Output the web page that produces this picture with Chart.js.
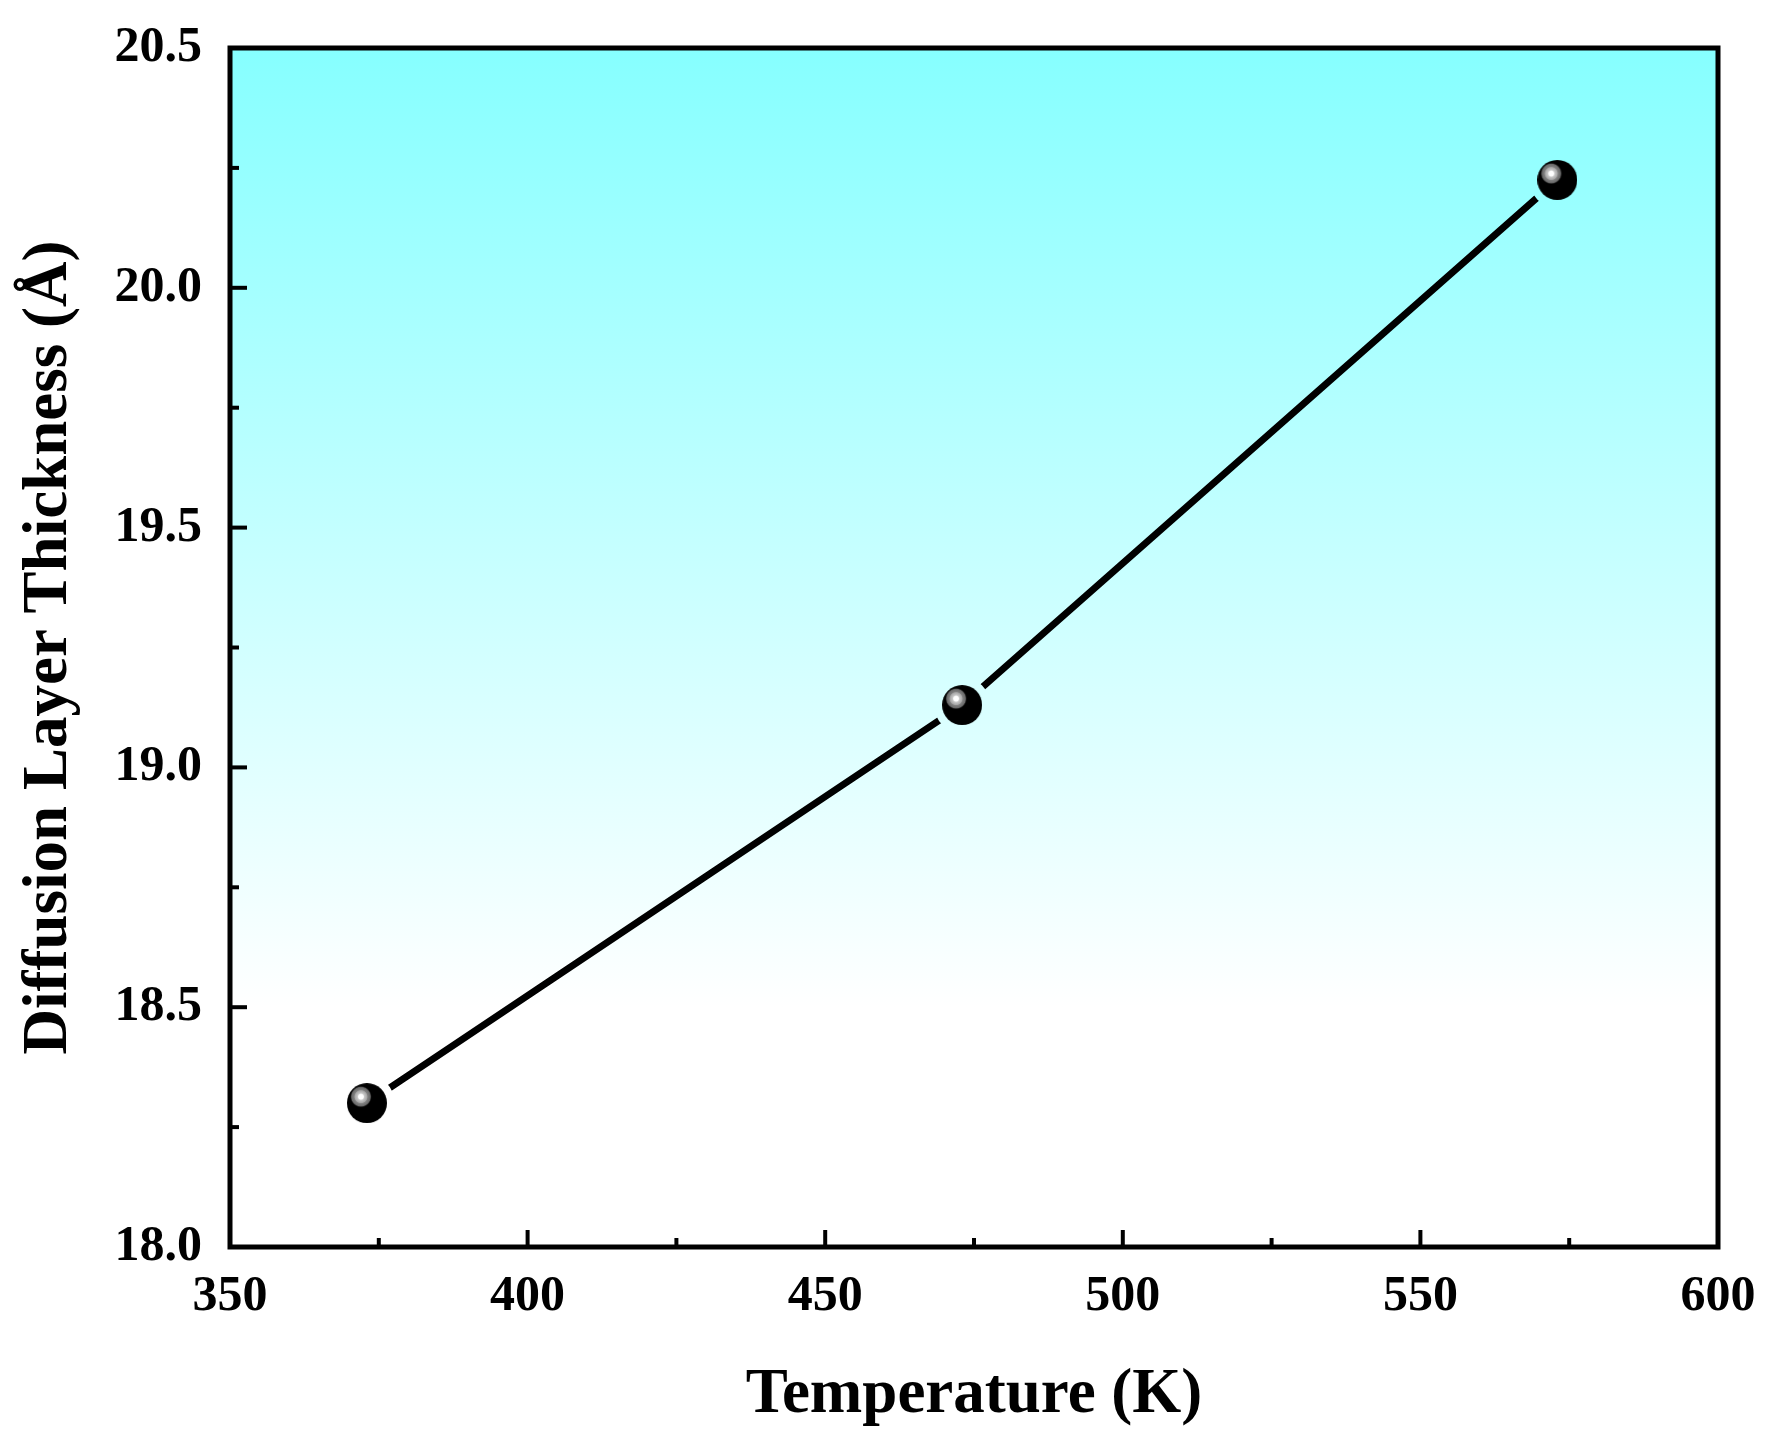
<!DOCTYPE html>
<html>
<head>
<meta charset="utf-8">
<title>Diffusion Layer Thickness</title>
<script src="https://cdn.jsdelivr.net/npm/chart.js@4.4.1/dist/chart.umd.min.js"></script>
<style>
  html, body { margin: 0; padding: 0; background: #fff; }
  #wrap { width: 1781px; height: 1448px; }
</style>
</head>
<body>
<div id="wrap"><canvas id="chart" width="1781" height="1448"></canvas></div>
<script>
// data
const temperatures = [373, 473, 573];
const thickness = [18.30, 19.13, 20.225];

const xMin = 350, xMax = 600;
const yMin = 18.0, yMax = 20.5;

const FONT = '"Liberation Serif", "Times New Roman", serif';

// shaded ball marker, like the Origin sphere symbol
function makeBall(r) {
  const c = document.createElement('canvas');
  c.width = c.height = r * 2;
  const g = c.getContext('2d');
  g.fillStyle = '#000';
  g.beginPath();
  g.arc(r, r, r, 0, Math.PI * 2);
  g.fill();
  const hx = r - r * 0.3, hy = r - r * 0.32;
  const hr = r * 0.55;
  const hl = g.createRadialGradient(hx, hy, 0, hx, hy, hr);
  hl.addColorStop(0, '#ffffff');
  hl.addColorStop(0.22, '#ffffff');
  hl.addColorStop(0.32, '#c8c8c8');
  hl.addColorStop(0.55, '#a8a8a8');
  hl.addColorStop(0.62, '#808080');
  hl.addColorStop(0.85, '#6a6a6a');
  hl.addColorStop(1, 'rgba(0,0,0,0)');
  g.fillStyle = hl;
  g.beginPath();
  g.arc(hx, hy, hr, 0, Math.PI * 2);
  g.fill();
  return c;
}

const ball = makeBall(20);
const points = temperatures.map((t, i) => ({ x: t, y: thickness[i] }));

// gradient background inside the frame
const bgPlugin = {
  id: 'bg',
  beforeDraw(chart) {
    const { ctx, chartArea: a } = chart;
    const grad = ctx.createLinearGradient(0, a.top, 0, a.bottom);
    grad.addColorStop(0, '#86ffff');
    grad.addColorStop(0.8, '#ffffff');
    grad.addColorStop(1, '#ffffff');
    ctx.save();
    ctx.fillStyle = grad;
    ctx.fillRect(a.left, a.top, a.right - a.left, a.bottom - a.top);
    ctx.restore();
  }
};

// cut gaps in the line around each symbol
const gapPlugin = {
  id: 'gap',
  beforeDatasetDraw(chart, args) {
    if (args.index !== 1) return;
    const ctx = chart.ctx;
    ctx.save();
    ctx.beginPath();
    ctx.rect(0, 0, chart.width, chart.height);
    chart.getDatasetMeta(1).data.forEach(p => {
      ctx.moveTo(p.x + 28, p.y);
      ctx.arc(p.x, p.y, 28, 0, Math.PI * 2, true);
    });
    ctx.clip('evenodd');
  },
  afterDatasetDraw(chart, args) {
    if (args.index !== 1) return;
    chart.ctx.restore();
  }
};

// inward ticks and closed frame
const framePlugin = {
  id: 'frame',
  afterDraw(chart) {
    const { ctx, chartArea: a, scales } = chart;
    ctx.save();
    ctx.strokeStyle = '#000';
    ctx.lineWidth = 4;
    ctx.lineCap = 'butt';
    scales.y.ticks.forEach(t => {
      const y = scales.y.getPixelForValue(t.value);
      const major = Math.abs(t.value * 2 - Math.round(t.value * 2)) < 1e-6;
      const len = major ? 17 : 9;
      ctx.beginPath();
      ctx.moveTo(a.left, y);
      ctx.lineTo(a.left + len, y);
      ctx.stroke();
    });
    scales.x.ticks.forEach(t => {
      const x = scales.x.getPixelForValue(t.value);
      const major = t.value % 50 === 0;
      const len = major ? 17 : 9;
      ctx.beginPath();
      ctx.moveTo(x, a.bottom);
      ctx.lineTo(x, a.bottom - len);
      ctx.stroke();
    });
    ctx.lineWidth = 5;
    ctx.strokeRect(a.left, a.top, a.right - a.left, a.bottom - a.top);
    ctx.restore();
  }
};

new Chart(document.getElementById('chart'), {
  type: 'scatter',
  data: {
    datasets: [
      {
        label: 'symbols',
        data: points,
        showLine: false,
        pointStyle: ball,
        pointRadius: 20,
        pointHoverRadius: 20
      },
      {
        label: 'line',
        data: points,
        showLine: true,
        borderColor: '#000',
        borderWidth: 7,
        borderCapStyle: 'round',
        pointRadius: 0,
        pointHoverRadius: 0,
        tension: 0
      }
    ]
  },
  options: {
    responsive: false,
    devicePixelRatio: 1,
    animation: false,
    events: [],
    layout: { padding: { top: 48, right: 63, left: 0, bottom: 0 } },
    plugins: {
      legend: { display: false },
      tooltip: { enabled: false }
    },
    scales: {
      x: {
        type: 'linear',
        min: xMin,
        max: xMax,
        afterFit(s) {
          s.height = 201;
          s.paddingLeft = 0;
          s.paddingRight = 0;
        },
        grid: { display: false, drawTicks: false },
        border: { display: false },
        ticks: {
          stepSize: 25,
          padding: 20,
          color: '#000',
          font: { family: FONT, size: 50, weight: 'bold' },
          callback: v => (v % 50 === 0 ? String(v) : '')
        },
        title: {
          display: true,
          text: 'Temperature (K)',
          color: '#000',
          font: { family: FONT, size: 63, weight: 'bold' },
          padding: { top: 0, bottom: 14 }
        }
      },
      y: {
        type: 'linear',
        min: yMin,
        max: yMax,
        afterFit(s) {
          s.width = 230;
          s.paddingTop = 0;
          s.paddingBottom = 0;
        },
        grid: { display: false, drawTicks: false },
        border: { display: false },
        ticks: {
          stepSize: 0.25,
          padding: 28,
          color: '#000',
          font: { family: FONT, size: 50, weight: 'bold' },
          callback: v => (Math.abs(v * 2 - Math.round(v * 2)) < 1e-6 ? v.toFixed(1) : '')
        },
        title: {
          display: true,
          text: 'Diffusion Layer Thickness (Å)',
          color: '#000',
          font: { family: FONT, size: 63, weight: 'bold' },
          padding: { top: 12, bottom: 0 }
        }
      }
    }
  },
  plugins: [bgPlugin, gapPlugin, framePlugin]
});
</script>
</body>
</html>
